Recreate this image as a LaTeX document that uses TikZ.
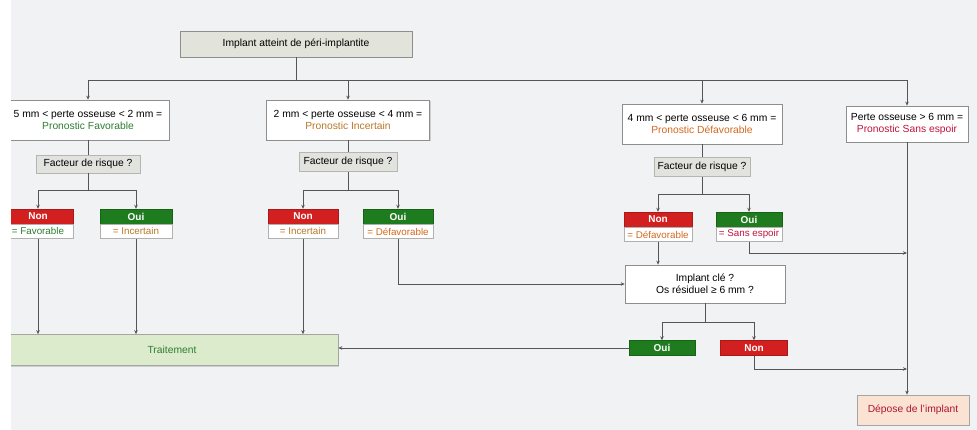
\documentclass[tikz,border=0pt]{standalone}
\usepackage{fontspec}
\setmainfont{Liberation Sans}
\usetikzlibrary{arrows.meta,shadows}
\definecolor{bgc}{HTML}{F1F2F3}
\definecolor{bord}{HTML}{8E8E8E}
\definecolor{topfill}{HTML}{E2E3DA}
\definecolor{frfill}{HTML}{E2E3DF}
\definecolor{redh}{HTML}{D21F1F}
\definecolor{greenh}{HTML}{1E7B1E}
\definecolor{trfill}{HTML}{DCEBCB}
\definecolor{trtext}{HTML}{2E7D32}
\definecolor{depfill}{HTML}{FBE3D4}
\definecolor{deptext}{HTML}{B0152C}
\definecolor{cfav}{HTML}{2E7D32}
\definecolor{cinc}{HTML}{B8782A}
\definecolor{cdef}{HTML}{D2691E}
\definecolor{csans}{HTML}{C0143C}
\definecolor{lnc}{HTML}{555555}
\begin{document}
\begin{tikzpicture}[x=1pt,y=-1pt,
  every node/.style={font=\fontsize{10.3}{12.5}\selectfont, inner sep=0pt},
  shad/.style={drop shadow={shadow xshift=1pt,shadow yshift=-1pt,opacity=0.25,fill=black!60}},
  topbox/.style={draw=bord, line width=0.7pt, fill=topfill, shad},
  lvlbox/.style={draw=bord, line width=0.7pt, fill=white, align=center, shad},
  frbox/.style={draw=frfill!80!black, line width=0.4pt, fill=frfill},
  nonh/.style={fill=redh, draw=redh!80!black, line width=0.4pt, text=white, font=\fontsize{10}{11}\selectfont\bfseries, minimum height=15pt},
  ouih/.style={fill=greenh, draw=greenh!80!black, line width=0.4pt, text=white, font=\fontsize{10}{11}\selectfont\bfseries, minimum height=15pt},
  valbox/.style={draw=bord!70, line width=0.5pt, fill=white, minimum height=14pt, anchor=north, font=\fontsize{9.8}{11}\selectfont},
  ln/.style={draw=lnc, line width=0.8pt},
  arr/.style={ln, -{Stealth[length=4pt,width=3.5pt]}}
  ]
\fill[bgc] (0,0) rectangle (977,430);
\useasboundingbox (0,0) rectangle (977,430);

% top
\node[topbox, minimum width=232pt, minimum height=26pt] (top) at (296,44) {Implant atteint de péri-implantite};
\coordinate (hub) at (296,80);

% level 1
\node[lvlbox, minimum width=162pt, minimum height=40pt] (b1) at (88,120) {5 mm < perte osseuse < 2 mm =\\\textcolor{cfav}{Pronostic Favorable}};
\node[lvlbox, minimum width=163pt, minimum height=40pt] (b2) at (348,120) {2 mm < perte osseuse < 4 mm =\\\textcolor{cinc}{Pronostic Incertain}};
\node[lvlbox, minimum width=160pt, minimum height=40pt] (b3) at (702,124) {4 mm < perte osseuse < 6 mm =\\\textcolor{cdef}{Pronostic Défavorable}};
\node[lvlbox, minimum width=122pt, minimum height=36pt] (b4) at (907,124) {Perte osseuse > 6 mm =\\\textcolor{csans}{Pronostic Sans espoir}};

% facteur de risque
\node[frbox, minimum width=104pt, minimum height=18pt] (fr1) at (88,164) {Facteur de risque ?};
\node[frbox, minimum width=98pt, minimum height=19pt] (fr2) at (348,162) {Facteur de risque ?};
\node[frbox, minimum width=96pt, minimum height=19pt] (fr3) at (702,167) {Facteur de risque ?};
\coordinate (h1) at (88,190);
\coordinate (h2) at (348,190);
\coordinate (h3) at (702,194);

% non / oui
\node[nonh, minimum width=70pt] (non1h) at (38,216.5) {Non};
\node[valbox, minimum width=70pt] (non1v) at (non1h.south) {\textcolor{cfav}{= Favorable}};
\node[ouih, minimum width=72pt] (oui1h) at (136,216.5) {Oui};
\node[valbox, minimum width=72pt] (oui1v) at (oui1h.south) {\textcolor{cinc}{= Incertain}};
\node[nonh, minimum width=70pt] (non2h) at (303,216.5) {Non};
\node[valbox, minimum width=70pt] (non2v) at (non2h.south) {\textcolor{cinc}{= Incertain}};
\node[ouih, minimum width=70pt] (oui2h) at (398,216.5) {Oui};
\node[valbox, minimum width=70pt] (oui2v) at (oui2h.south) {\textcolor{cdef}{= Défavorable}};
\node[nonh, minimum width=68pt] (non3h) at (658,219.5) {Non};
\node[valbox, minimum width=68pt] (non3v) at (non3h.south) {\textcolor{cdef}{= Défavorable}};
\node[ouih, minimum width=66pt] (oui3h) at (749,219.5) {Oui};
\node[valbox, minimum width=66pt] (oui3v) at (oui3h.south) {\textcolor{csans}{= Sans espoir}};

% implant clé
\node[lvlbox, minimum width=160pt, minimum height=38pt] (ic) at (705,284) {Implant clé ?\\Os résiduel ≥ 6 mm ?};
\coordinate (hc) at (705,322);
\node[ouih, minimum width=66pt] (ouic) at (662,348) {Oui};
\node[nonh, minimum width=67pt] (nonc) at (754,348) {Non};

% final
\node[draw=bord!80, line width=0.7pt, fill=trfill, text=trtext, minimum width=332pt, minimum height=31pt, shad] (trait) at (172,350) {Traitement};
\node[draw=bord!80, line width=0.7pt, fill=depfill, text=deptext, minimum width=112pt, minimum height=30pt, shad] (dep) at (913,410) {Dépose de l'implant};
\coordinate (j1) at (907,253);
\coordinate (j2) at (907,369);

% connectors
\draw[ln] (top.south) -- (hub);
\draw[arr] (hub) -| (b1.north);
\draw[arr] (hub) -| (b2.north);
\draw[arr] (hub) -| (b3.north);
\draw[arr] (hub) -| (b4.north);

\draw[ln] (b1.south) -- (fr1.north);
\draw[ln] (b2.south) -- (fr2.north);
\draw[ln] (b3.south) -- (fr3.north);
\draw[ln] (fr1.south) -- (h1);
\draw[ln] (fr2.south) -- (h2);
\draw[ln] (fr3.south) -- (h3);
\draw[arr] (h1) -| (non1h.north);
\draw[arr] (h1) -| (oui1h.north);
\draw[arr] (h2) -| (non2h.north);
\draw[arr] (h2) -| (oui2h.north);
\draw[arr] (h3) -| (non3h.north);
\draw[arr] (h3) -| (oui3h.north);

\draw[arr] (non1v.south) -- (non1v.south |- trait.north);
\draw[arr] (oui1v.south) -- (oui1v.south |- trait.north);
\draw[arr] (non2v.south) -- (non2v.south |- trait.north);
\draw[arr] (oui2v.south) |- (ic.west);
\draw[arr] (non3v.south) -- (non3v.south |- ic.north);
\draw[arr] (oui3v.south) |- (j1);

\draw[ln] (ic.south) -- (hc);
\draw[arr] (hc) -| (ouic.north);
\draw[arr] (hc) -| (nonc.north);
\draw[arr] (ouic.west) -- (ouic.west -| trait.east);
\draw[arr] (nonc.south) |- (j2);
\draw[arr] (b4.south) -- (b4.south |- dep.north);

% screen edge
\fill[white] (0,0) rectangle (11,430);
\end{tikzpicture}
\end{document}
